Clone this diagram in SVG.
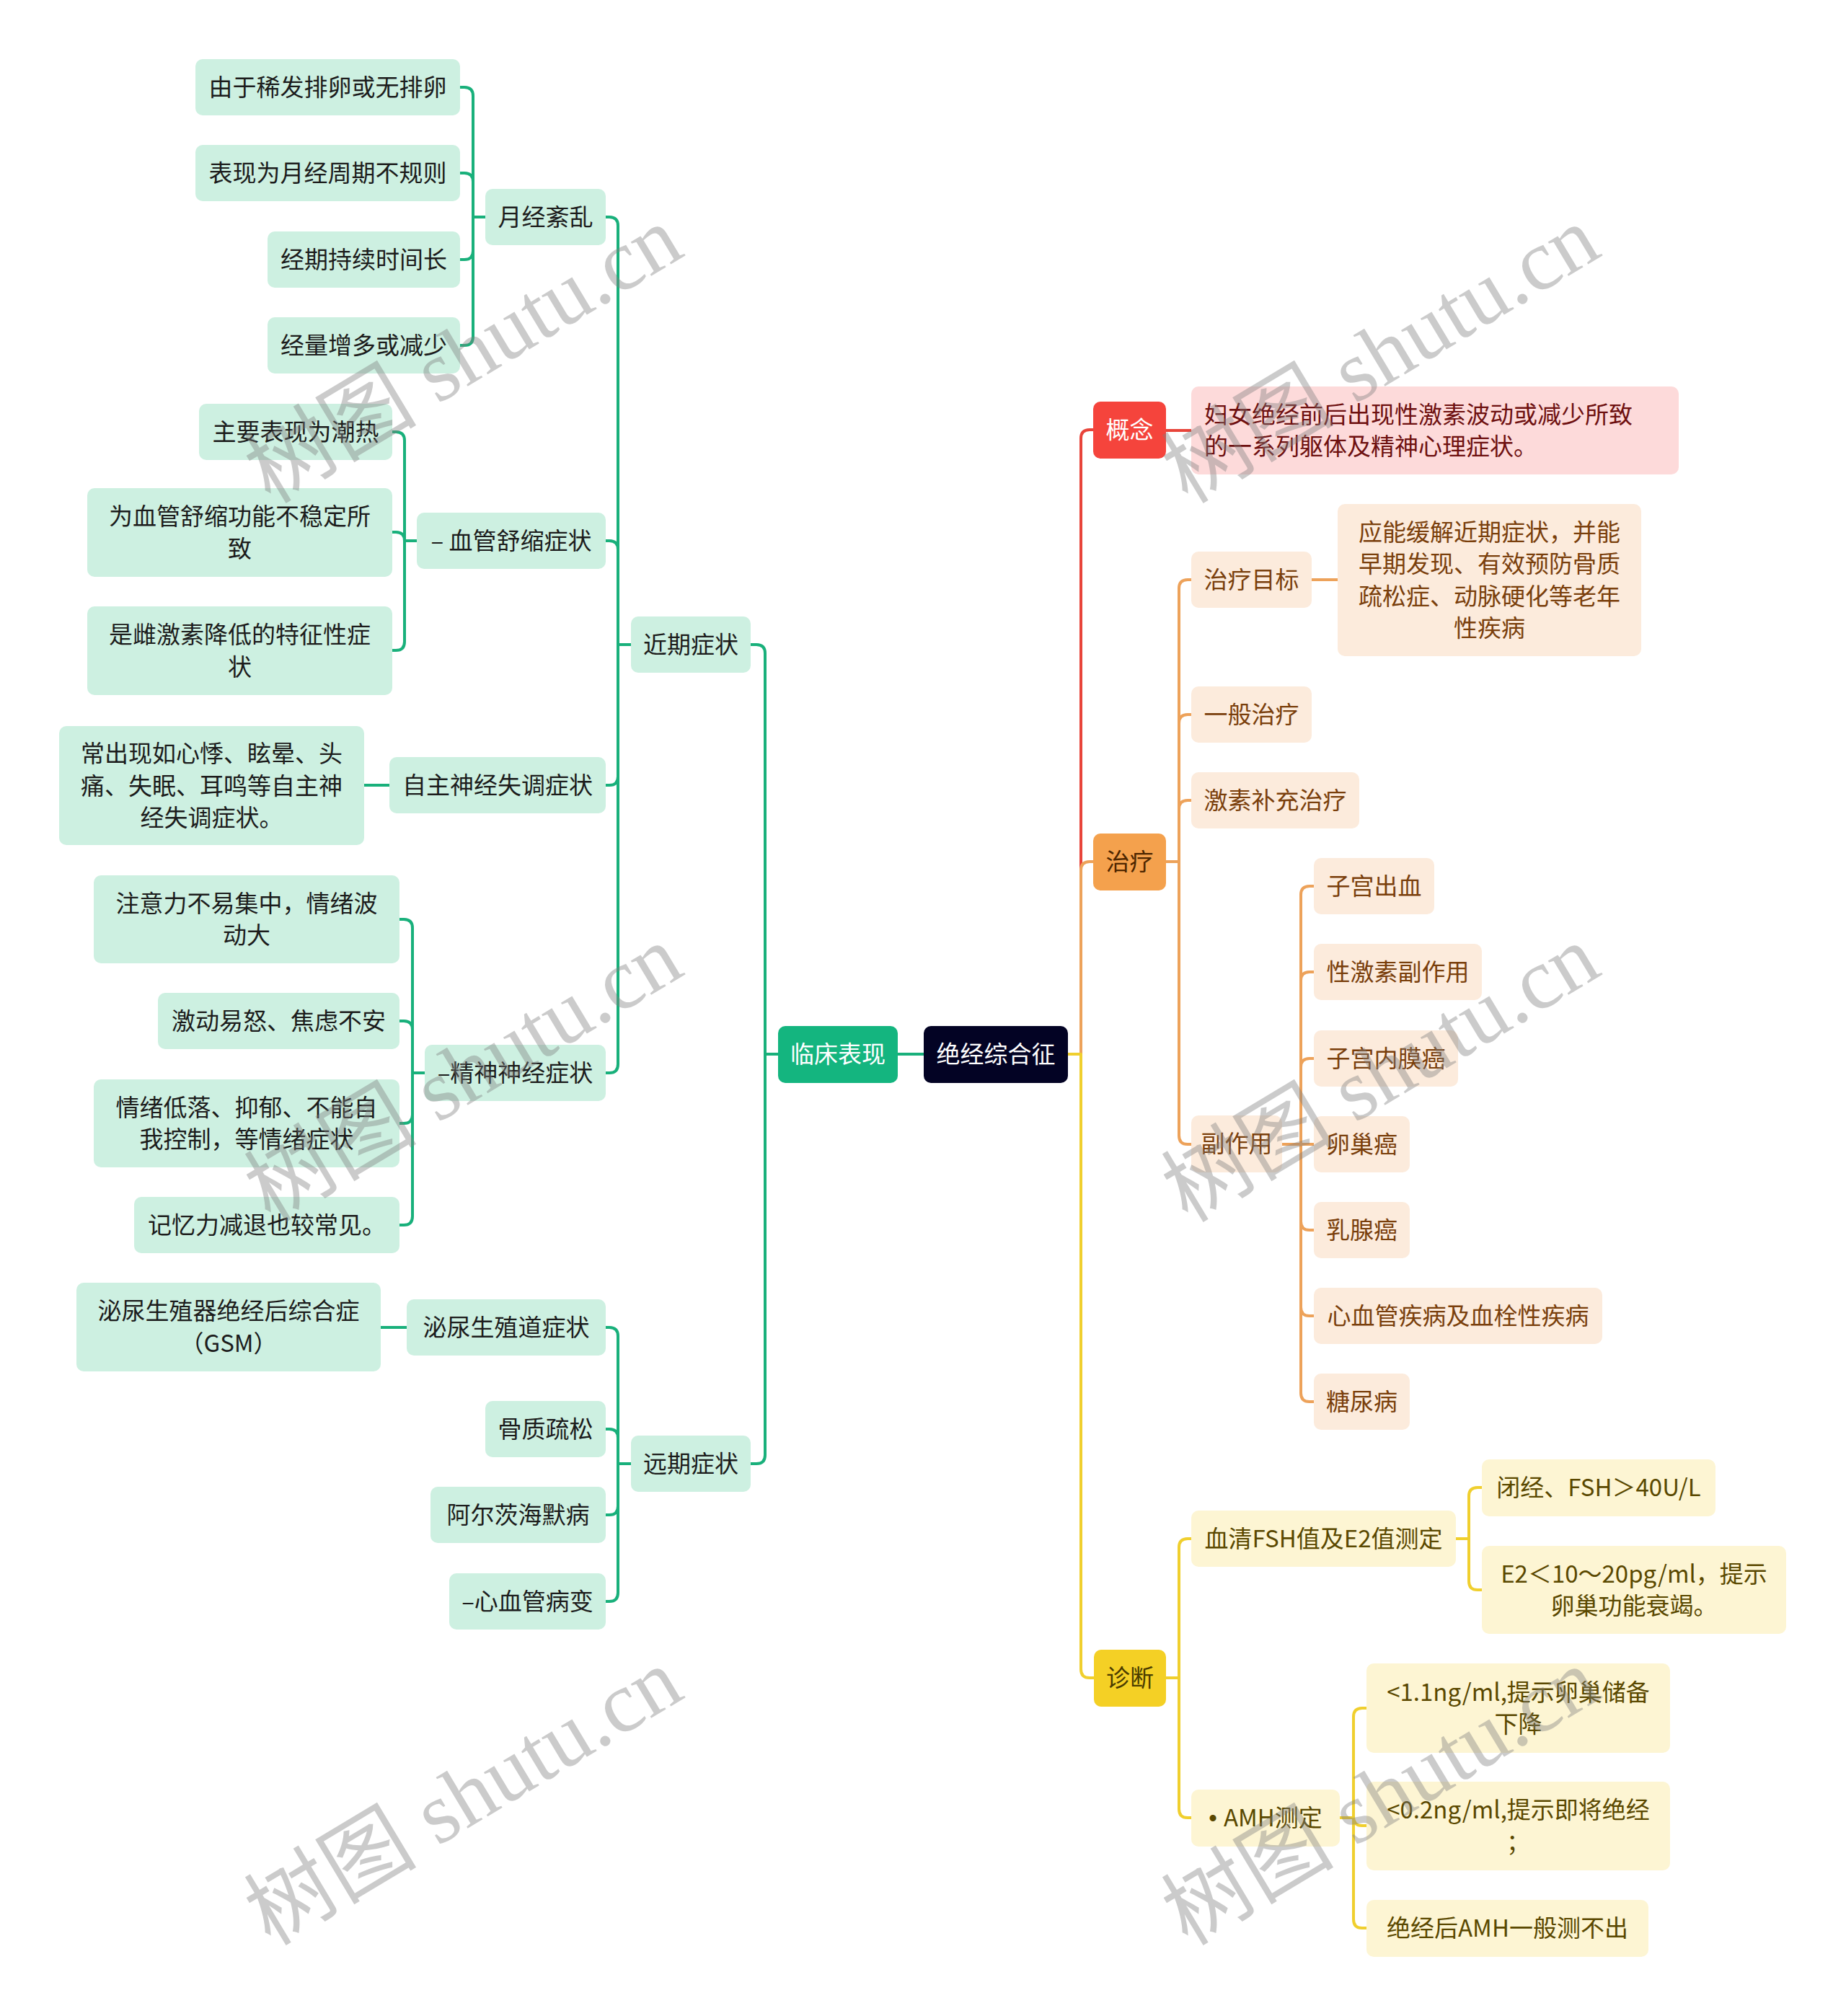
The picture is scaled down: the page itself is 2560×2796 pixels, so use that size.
<svg xmlns="http://www.w3.org/2000/svg" width="2560" height="2796" viewBox="0 0 2560 2796">
<style>
text{font-family:"Noto Sans CJK SC","Noto Sans",sans-serif;font-size:33px;text-anchor:middle}
.l{text-anchor:start}
.root{fill:#030324}.rootT{fill:#ffffff}
.g1{fill:#14b57f}.w{fill:#ffffff}
.g2{fill:#cdf0e1}.gT{fill:#1c1c1c}
.r1{fill:#f5443c}
.r2{fill:#fddada}.rT{fill:#6e1010}
.o1{fill:#f4a14d}.o1T{fill:#4d2600}
.o2{fill:#fcebdc}.oT{fill:#7a3f0c}
.y1{fill:#f4d025}.y1T{fill:#4a3c00}
.y2{fill:#fdf5d3}.yT{fill:#5a4800}
.c{fill:none;stroke-width:4;stroke-linecap:round;stroke-linejoin:round}
.cg{stroke:#19b07b}.cr{stroke:#e8443a}.co{stroke:#eda25a}.cy{stroke:#f0cf2e}
.wm{font-family:"Liberation Serif","Noto Sans CJK SC",serif;font-size:120px;text-anchor:start;fill:#7f7f7f;opacity:0.4}
</style>
<rect width="2560" height="2796" fill="#ffffff"/>
<g id="connectors">
<path class="c cg" d="M1281,1462 H1245"/>
<path class="c cg" d="M1079,1462 H1061 V906 Q1061,894 1049,894 H1041"/>
<path class="c cg" d="M1079,1462 H1061 V2018 Q1061,2030 1049,2030 H1041"/>
<path class="c cg" d="M875,894 H857 V313 Q857,301 845,301 H840"/>
<path class="c cg" d="M875,894 H857 V762 Q857,750 845,750 H840"/>
<path class="c cg" d="M875,894 H857 V1077 Q857,1089 845,1089 H840"/>
<path class="c cg" d="M875,894 H857 V1476 Q857,1488 845,1488 H840"/>
<path class="c cg" d="M875,2030 H857 V1853 Q857,1841 845,1841 H840"/>
<path class="c cg" d="M875,2030 H857 V1994 Q857,1982 845,1982 H840"/>
<path class="c cg" d="M875,2030 H857 V2089 Q857,2101 845,2101 H840"/>
<path class="c cg" d="M875,2030 H857 V2209 Q857,2221 845,2221 H840"/>
<path class="c cg" d="M673,301 H656 V133 Q656,121 644,121 H638"/>
<path class="c cg" d="M673,301 H656 V252 Q656,240 644,240 H638"/>
<path class="c cg" d="M673,301 H656 V348 Q656,360 644,360 H638"/>
<path class="c cg" d="M673,301 H656 V467 Q656,479 644,479 H638"/>
<path class="c cg" d="M578,750 H561 V611 Q561,599 549,599 H544"/>
<path class="c cg" d="M578,750 H561 V750 Q561,738 549,738 H544"/>
<path class="c cg" d="M578,750 H561 V890 Q561,902 549,902 H544"/>
<path class="c cg" d="M540,1089 H505"/>
<path class="c cg" d="M589,1488 H572 V1287 Q572,1275 560,1275 H554"/>
<path class="c cg" d="M589,1488 H572 V1428 Q572,1416 560,1416 H554"/>
<path class="c cg" d="M589,1488 H572 V1546 Q572,1558 560,1558 H554"/>
<path class="c cg" d="M589,1488 H572 V1687 Q572,1699 560,1699 H554"/>
<path class="c cg" d="M564,1841 H528"/>
<path class="c cr" d="M1481,1462 H1499 V608 Q1499,596 1511,596 H1516"/>
<path class="c cr" d="M1617,597 H1652"/>
<path class="c co" d="M1481,1462 H1499 V1207 Q1499,1195 1511,1195 H1516"/>
<path class="c co" d="M1617,1195 H1635 V816 Q1635,804 1647,804 H1652"/>
<path class="c co" d="M1617,1195 H1635 V1003 Q1635,991 1647,991 H1652"/>
<path class="c co" d="M1617,1195 H1635 V1122 Q1635,1110 1647,1110 H1652"/>
<path class="c co" d="M1617,1195 H1635 V1575 Q1635,1587 1647,1587 H1652"/>
<path class="c co" d="M1819,804 H1855"/>
<path class="c co" d="M1778,1587 H1804 V1241 Q1804,1229 1816,1229 H1822"/>
<path class="c co" d="M1778,1587 H1804 V1360 Q1804,1348 1816,1348 H1822"/>
<path class="c co" d="M1778,1587 H1804 V1480 Q1804,1468 1816,1468 H1822"/>
<path class="c co" d="M1778,1587 H1822"/>
<path class="c co" d="M1778,1587 H1804 V1694 Q1804,1706 1816,1706 H1822"/>
<path class="c co" d="M1778,1587 H1804 V1813 Q1804,1825 1816,1825 H1822"/>
<path class="c co" d="M1778,1587 H1804 V1932 Q1804,1944 1816,1944 H1822"/>
<path class="c cy" d="M1481,1462 H1499 V2315 Q1499,2327 1511,2327 H1517"/>
<path class="c cy" d="M1617,2327 H1635 V2146 Q1635,2134 1647,2134 H1652"/>
<path class="c cy" d="M1617,2327 H1635 V2509 Q1635,2521 1647,2521 H1652"/>
<path class="c cy" d="M2019,2134 H2037 V2075 Q2037,2063 2049,2063 H2055"/>
<path class="c cy" d="M2019,2134 H2037 V2193 Q2037,2205 2049,2205 H2055"/>
<path class="c cy" d="M1858,2521 H1877 V2381 Q1877,2369 1889,2369 H1895"/>
<path class="c cy" d="M1858,2521 H1877 V2520 Q1877,2532 1889,2532 H1895"/>
<path class="c cy" d="M1858,2521 H1877 V2662 Q1877,2674 1889,2674 H1895"/>
</g>
<g id="n-root"><rect class="root" x="1281" y="1423" width="200" height="79" rx="10"/><text class="rootT" x="1381" y="1474">绝经综合征</text></g>
<g id="n-linchuang"><rect class="g1" x="1079" y="1423" width="166" height="79" rx="10"/><text class="w" x="1162" y="1474">临床表现</text></g>
<g id="n-jinqi"><rect class="g2" x="875" y="855" width="166" height="78" rx="10"/><text class="gT" x="958" y="906">近期症状</text></g>
<g id="n-yuanqi"><rect class="g2" x="875" y="1991" width="166" height="78" rx="10"/><text class="gT" x="958" y="2042">远期症状</text></g>
<g id="n-yuejing"><rect class="g2" x="673" y="262" width="167" height="78" rx="10"/><text class="gT" x="756.5" y="313">月经紊乱</text></g>
<g id="n-yj1"><rect class="g2" x="271" y="82" width="367" height="78" rx="10"/><text class="gT" x="454.5" y="133">由于稀发排卵或无排卵</text></g>
<g id="n-yj2"><rect class="g2" x="271" y="201" width="367" height="78" rx="10"/><text class="gT" x="454.5" y="252">表现为月经周期不规则</text></g>
<g id="n-yj3"><rect class="g2" x="371" y="321" width="267" height="78" rx="10"/><text class="gT" x="504.5" y="372">经期持续时间长</text></g>
<g id="n-yj4"><rect class="g2" x="371" y="440" width="267" height="78" rx="10"/><text class="gT" x="504.5" y="491">经量增多或减少</text></g>
<g id="n-xueguan"><rect class="g2" x="578" y="711" width="262" height="78" rx="10"/><text class="gT" x="709" y="762">– 血管舒缩症状</text></g>
<g id="n-xg1"><rect class="g2" x="276" y="560" width="268" height="78" rx="10"/><text class="gT" x="410" y="611">主要表现为潮热</text></g>
<g id="n-xg2"><rect class="g2" x="121" y="677" width="423" height="123" rx="10"/><text class="gT" x="332.5" y="728">为血管舒缩功能不稳定所</text><text class="gT" x="332.5" y="773">致</text></g>
<g id="n-xg3"><rect class="g2" x="121" y="841" width="423" height="123" rx="10"/><text class="gT" x="332.5" y="892">是雌激素降低的特征性症</text><text class="gT" x="332.5" y="937">状</text></g>
<g id="n-zizhu"><rect class="g2" x="540" y="1050" width="300" height="78" rx="10"/><text class="gT" x="690" y="1101">自主神经失调症状</text></g>
<g id="n-zz1"><rect class="g2" x="82" y="1007" width="423" height="165" rx="10"/><text class="gT" x="293.5" y="1057">常出现如心悸、眩晕、头</text><text class="gT" x="293.5" y="1101.5">痛、失眠、耳鸣等自主神</text><text class="gT" x="293.5" y="1146">经失调症状。</text></g>
<g id="n-jingshen"><rect class="g2" x="589" y="1449" width="251" height="78" rx="10"/><text class="gT" x="714.5" y="1500">–精神神经症状</text></g>
<g id="n-js1"><rect class="g2" x="130" y="1214" width="424" height="122" rx="10"/><text class="gT" x="342" y="1265">注意力不易集中，情绪波</text><text class="gT" x="342" y="1309">动大</text></g>
<g id="n-js2"><rect class="g2" x="219" y="1377" width="335" height="78" rx="10"/><text class="gT" x="386.5" y="1428">激动易怒、焦虑不安</text></g>
<g id="n-js3"><rect class="g2" x="130" y="1497" width="424" height="122" rx="10"/><text class="gT" x="342" y="1548">情绪低落、抑郁、不能自</text><text class="gT" x="342" y="1592">我控制，等情绪症状</text></g>
<g id="n-js4"><rect class="g2" x="186" y="1660" width="368" height="78" rx="10"/><text class="gT" x="370" y="1711">记忆力减退也较常见。</text></g>
<g id="n-miniao"><rect class="g2" x="564" y="1802" width="276" height="78" rx="10"/><text class="gT" x="702" y="1853">泌尿生殖道症状</text></g>
<g id="n-gsm"><rect class="g2" x="106" y="1779" width="422" height="123" rx="10"/><text class="gT" x="317" y="1830">泌尿生殖器绝经后综合症</text><text class="gT" x="317" y="1875">（GSM）</text></g>
<g id="n-guzhi"><rect class="g2" x="673" y="1943" width="167" height="78" rx="10"/><text class="gT" x="756.5" y="1994">骨质疏松</text></g>
<g id="n-aer"><rect class="g2" x="597" y="2062" width="243" height="78" rx="10"/><text class="gT" x="718.5" y="2113">阿尔茨海默病</text></g>
<g id="n-xinxue"><rect class="g2" x="623" y="2182" width="217" height="78" rx="10"/><text class="gT" x="731.5" y="2233">–心血管病变</text></g>
<g id="n-gainian"><rect class="r1" x="1516" y="557" width="101" height="79" rx="10"/><text class="w" x="1566.5" y="608">概念</text></g>
<g id="n-gn1"><rect class="r2" x="1652" y="536" width="676" height="122" rx="10"/><text class="rT l" x="1670" y="587">妇女绝经前后出现性激素波动或减少所致</text><text class="rT l" x="1670" y="631">的一系列躯体及精神心理症状。</text></g>
<g id="n-zhiliao"><rect class="o1" x="1516" y="1156" width="101" height="79" rx="10"/><text class="o1T" x="1566.5" y="1207">治疗</text></g>
<g id="n-mubiao"><rect class="o2" x="1652" y="765" width="167" height="78" rx="10"/><text class="oT" x="1735.5" y="816">治疗目标</text></g>
<g id="n-mb1"><rect class="o2" x="1855" y="699" width="421" height="211" rx="10"/><text class="oT" x="2065.5" y="750">应能缓解近期症状，并能</text><text class="oT" x="2065.5" y="794">早期发现、有效预防骨质</text><text class="oT" x="2065.5" y="839">疏松症、动脉硬化等老年</text><text class="oT" x="2065.5" y="883">性疾病</text></g>
<g id="n-yiban"><rect class="o2" x="1652" y="952" width="167" height="78" rx="10"/><text class="oT" x="1735.5" y="1003">一般治疗</text></g>
<g id="n-jisu"><rect class="o2" x="1652" y="1071" width="233" height="78" rx="10"/><text class="oT" x="1768.5" y="1122">激素补充治疗</text></g>
<g id="n-fuzuo"><rect class="o2" x="1652" y="1547" width="126" height="79" rx="10"/><text class="oT" x="1715" y="1598">副作用</text></g>
<g id="n-fz1"><rect class="o2" x="1822" y="1190" width="167" height="78" rx="10"/><text class="oT" x="1905.5" y="1241">子宫出血</text></g>
<g id="n-fz2"><rect class="o2" x="1822" y="1309" width="233" height="78" rx="10"/><text class="oT" x="1938.5" y="1360">性激素副作用</text></g>
<g id="n-fz3"><rect class="o2" x="1822" y="1429" width="200" height="78" rx="10"/><text class="oT" x="1922" y="1480">子宫内膜癌</text></g>
<g id="n-fz4"><rect class="o2" x="1822" y="1548" width="133" height="78" rx="10"/><text class="oT" x="1888.5" y="1599">卵巢癌</text></g>
<g id="n-fz5"><rect class="o2" x="1822" y="1667" width="133" height="78" rx="10"/><text class="oT" x="1888.5" y="1718">乳腺癌</text></g>
<g id="n-fz6"><rect class="o2" x="1822" y="1786" width="400" height="78" rx="10"/><text class="oT" x="2022" y="1837">心血管疾病及血栓性疾病</text></g>
<g id="n-fz7"><rect class="o2" x="1822" y="1905" width="133" height="78" rx="10"/><text class="oT" x="1888.5" y="1956">糖尿病</text></g>
<g id="n-zhenduan"><rect class="y1" x="1517" y="2288" width="100" height="79" rx="10"/><text class="y1T" x="1567" y="2339">诊断</text></g>
<g id="n-xueqing"><rect class="y2" x="1652" y="2095" width="367" height="78" rx="10"/><text class="yT" x="1835.5" y="2146">血清FSH值及E2值测定</text></g>
<g id="n-xq1"><rect class="y2" x="2055" y="2024" width="324" height="79" rx="10"/><text class="yT" x="2217" y="2075">闭经、FSH＞40U/L</text></g>
<g id="n-xq2"><rect class="y2" x="2055" y="2144" width="422" height="122" rx="10"/><text class="yT" x="2266" y="2195">E2＜10～20pg/ml，提示</text><text class="yT" x="2266" y="2239">卵巢功能衰竭。</text></g>
<g id="n-amh"><rect class="y2" x="1652" y="2482" width="206" height="79" rx="10"/><text class="yT" x="1755" y="2533"><tspan font-family="Liberation Sans, sans-serif">• </tspan>AMH测定</text></g>
<g id="n-amh1"><rect class="y2" x="1895" y="2307" width="421" height="124" rx="10"/><text class="yT" x="2105.5" y="2359">&lt;1.1ng/ml,提示卵巢储备</text><text class="yT" x="2105.5" y="2403">下降</text></g>
<g id="n-amh2"><rect class="y2" x="1895" y="2471" width="421" height="123" rx="10"/><text class="yT" x="2105.5" y="2522">&lt;0.2ng/ml,提示即将绝经</text><text class="yT" x="2105.5" y="2567">；</text></g>
<g id="n-amh3"><rect class="y2" x="1895" y="2635" width="391" height="79" rx="10"/><text class="yT" x="2090.5" y="2686">绝经后AMH一般测不出</text></g>
<g id="watermarks">
<text class="wm" transform="translate(375,700) rotate(-31)">树图 shutu.cn</text>
<text class="wm" transform="translate(1647,700) rotate(-31)">树图 shutu.cn</text>
<text class="wm" transform="translate(375,1697) rotate(-31)">树图 shutu.cn</text>
<text class="wm" transform="translate(1647,1697) rotate(-31)">树图 shutu.cn</text>
<text class="wm" transform="translate(375,2700) rotate(-31)">树图 shutu.cn</text>
<text class="wm" transform="translate(1647,2700) rotate(-31)">树图 shutu.cn</text>
</g>
</svg>
